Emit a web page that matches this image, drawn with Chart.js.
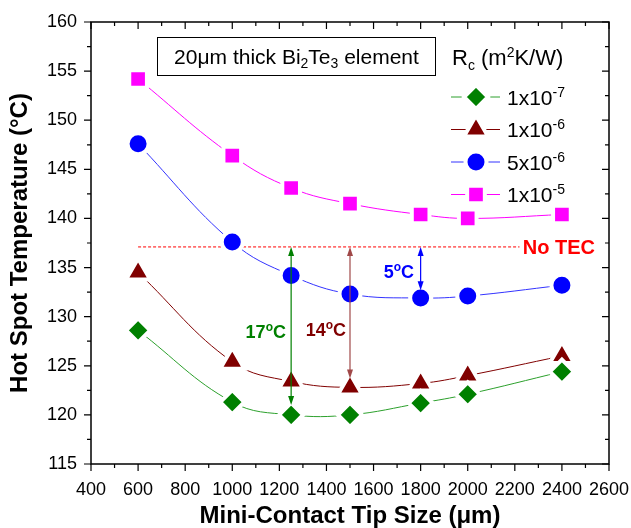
<!DOCTYPE html>
<html lang="en">
<head>
<meta charset="UTF-8">
<title>Hot Spot Temperature vs Mini-Contact Tip Size</title>
<script src="https://cdn.jsdelivr.net/npm/chart.js"></script>
<style>
  body { margin: 0; background: #fff; }
  #chart { display: block; }
</style>
</head>
<body>
<canvas id="chart" width="631" height="528"></canvas>
<script>
// data
const tipSize = [600, 1000, 1250, 1500, 1800, 2000, 2400];
const rc1e7 = [128.6, 121.3, 120.0, 120.0, 121.2, 122.1, 124.4];
const rc1e6 = [134.5, 125.4, 123.4, 122.8, 123.2, 124.0, 126.0];
const rc5e6 = [147.6, 137.6, 134.2, 132.3, 131.9, 132.1, 133.2];
const rc1e5 = [154.2, 146.4, 143.1, 141.5, 140.4, 140.0, 140.4];

const seriesMant = ['1x10', '1x10', '5x10', '1x10'];
const seriesExp = ['-7', '-6', '-6', '-5'];

const noTec = 137.1;
const noTecRange = [600, 2220];

// temperature drop arrows: x, from, to
const dropX = [1250, 1500, 1800];
const dropTo = [121.0, 123.7, 132.7];
const dropText = ['17', '14', '5'];

const FONT = '"Liberation Sans", Arial, Helvetica, sans-serif';

function series(label, values, lineColor, pointColor, shape, radius) {
  return {
    label,
    data: tipSize.map((x, i) => ({ x, y: values[i] })),
    borderColor: lineColor,
    backgroundColor: pointColor,
    pointBackgroundColor: pointColor,
    pointBorderColor: '#fff',
    pointBorderWidth: 4,
    pointRadius: radius,
    pointStyle: shape,
    borderWidth: 1,
    tension: 0.4,
    fill: false
  };
}

const datasets = [
  series('1x10-7', rc1e7, '#2ca02c', '#008000', 'rectRot', 12),
  series('1x10-6', rc1e6, '#800000', '#800000', 'triangle', 14),
  series('5x10-6', rc5e6, '#3333ff', '#0000ff', 'circle', 10.5),
  series('1x10-5', rc1e5, '#ff00ff', '#ff00ff', 'rect', 12.5),
  {
    label: 'No TEC',
    data: noTecRange.map(x => ({ x, y: noTec })),
    borderColor: '#ff0000',
    borderWidth: 1,
    borderDash: [3, 2],
    pointRadius: 0,
    fill: false
  }
];

// draw text with sub/superscript parts, y = baseline
function drawRich(ctx, parts, x, y, size, weight, color, align) {
  const fontOf = p => `${weight} ${p[1] ? Math.round(size * 0.65) : size}px ${FONT}`;
  let w = 0;
  parts.forEach(p => { ctx.font = fontOf(p); w += ctx.measureText(p[0]).width; });
  let cx = align === 'right' ? x - w : align === 'center' ? x - w / 2 : x;
  ctx.fillStyle = color;
  ctx.textAlign = 'left';
  ctx.textBaseline = 'alphabetic';
  parts.forEach(p => {
    ctx.font = fontOf(p);
    const dy = p[1] === 'sup' ? -size * 0.38 : p[1] === 'sub' ? size * 0.22 : 0;
    ctx.fillText(p[0], cx, y + dy);
    cx += ctx.measureText(p[0]).width;
  });
}

function arrowHead(ctx, x, y, dir, color) {
  ctx.fillStyle = color;
  ctx.beginPath();
  ctx.moveTo(x, y);
  ctx.lineTo(x - 3, y + dir * 9);
  ctx.lineTo(x + 3, y + dir * 9);
  ctx.closePath();
  ctx.fill();
}

const extras = {
  id: 'extras',
  afterDatasetsDraw(chart) {
    const ctx = chart.ctx;
    const xs = chart.scales.x, ys = chart.scales.y;
    const dropColors = ['#008000', '#a04848', '#0000ff'];
    const textColors = ['#008000', '#800000', '#0000ff'];
    ctx.save();
    dropX.forEach((v, i) => {
      const px = xs.getPixelForValue(v);
      const y1 = ys.getPixelForValue(noTec), y2 = ys.getPixelForValue(dropTo[i]);
      ctx.strokeStyle = dropColors[i];
      ctx.lineWidth = 1.2;
      ctx.beginPath();
      ctx.moveTo(px, y1 + 4);
      ctx.lineTo(px, y2 - 4);
      ctx.stroke();
      arrowHead(ctx, px, y1, 1, dropColors[i]);
      arrowHead(ctx, px, y2, -1, dropColors[i]);
    });
    // drop labels
    const lbl = [[1228, 128.5], [1483, 128.7], [1772, 134.6]];
    lbl.forEach((p, i) => {
      drawRich(ctx, [[dropText[i], ''], ['o', 'sup'], ['C', '']],
        xs.getPixelForValue(p[0]), ys.getPixelForValue(p[1]) + 6.5, 18, 'bold', textColors[i], 'right');
    });
    drawRich(ctx, [['No TEC', '']], xs.getPixelForValue(2234), ys.getPixelForValue(noTec) + 7, 20, 'bold', '#ff0000', 'left');

    // text box
    ctx.strokeStyle = '#000';
    ctx.lineWidth = 1;
    ctx.strokeRect(157.5, 37.5, 278, 38);
    drawRich(ctx, [['20\u03bcm thick Bi', ''], ['2', 'sub'], ['Te', ''], ['3', 'sub'], [' element', '']],
      296.5, 63.5, 21, 'normal', '#000', 'center');

    // legend
    drawRich(ctx, [['R', ''], ['c', 'sub'], [' (m', ''], ['2', 'sup'], ['K/W)', '']], 452, 65, 22, 'normal', '#000', 'left');
    chart.data.datasets.slice(0, 4).forEach((ds, i) => {
      const y = 97 + 32.5 * i;
      ctx.strokeStyle = ds.borderColor;
      ctx.lineWidth = 1;
      ctx.beginPath();
      ctx.moveTo(451, y);
      ctx.lineTo(500, y);
      ctx.stroke();
      ctx.fillStyle = ds.pointBackgroundColor;
      ctx.strokeStyle = '#fff';
      ctx.lineWidth = 4;
      Chart.helpers.drawPoint(ctx, { pointStyle: ds.pointStyle, radius: ds.pointRadius, rotation: 0, borderWidth: 4 }, 476, y);
      drawRich(ctx, [[seriesMant[i], ''], [seriesExp[i], 'sup']], 507, y + 7.5, 21, 'normal', '#000', 'left');
    });
    ctx.restore();
  },
  afterDraw(chart) {
    const ctx = chart.ctx;
    const a = chart.chartArea;
    const xs = chart.scales.x, ys = chart.scales.y;
    ctx.save();
    ctx.strokeStyle = '#000';
    ctx.lineWidth = 1.5;
    ctx.strokeRect(a.left, a.top, a.right - a.left, a.bottom - a.top);
    ctx.lineWidth = 1.2;
    ctx.beginPath();
    for (let v = 400; v <= 2600; v += 100) {
      const px = xs.getPixelForValue(v);
      const len = v % 200 === 0 ? 7 : 4;
      ctx.moveTo(px, a.bottom); ctx.lineTo(px, a.bottom + len);
      ctx.moveTo(px, a.top); ctx.lineTo(px, a.top + len);
    }
    for (let v = 115; v <= 160; v += 2.5) {
      const py = ys.getPixelForValue(v);
      const len = v % 5 === 0 ? 7 : 4;
      ctx.moveTo(a.left - len, py); ctx.lineTo(a.left, py);
      ctx.moveTo(a.right - len, py); ctx.lineTo(a.right, py);
    }
    ctx.stroke();
    ctx.restore();
  }
};

new Chart(document.getElementById('chart'), {
  type: 'line',
  data: { datasets },
  options: {
    responsive: false,
    animation: false,
    events: [],
    layout: { padding: { top: 22, right: 22, left: 0, bottom: 0 } },
    plugins: { legend: { display: false }, tooltip: { enabled: false } },
    scales: {
      x: {
        type: 'linear', min: 400, max: 2600,
        grid: { display: false, drawTicks: false }, border: { display: false },
        ticks: { stepSize: 200, autoSkip: false, maxRotation: 0, padding: 15, color: '#000',
          font: { size: 18, family: FONT }, callback: v => String(v) },
        title: { display: true, text: 'Mini-Contact Tip Size (\u03bcm)', color: '#000', padding: { top: 0, bottom: 0 },
          font: { size: 24, weight: 'bold', family: FONT, lineHeight: 1 } },
        afterFit: s => { s.height = 64; s.paddingLeft = 0; s.paddingRight = 0; }
      },
      y: {
        min: 115, max: 160,
        grid: { display: false, drawTicks: false }, border: { display: false },
        ticks: { stepSize: 5, autoSkip: false, padding: 14, color: '#000', font: { size: 18, family: FONT } },
        title: { display: true, text: 'Hot Spot Temperature (\u00b0C)', color: '#000', padding: { top: 8, bottom: 0 },
          font: { size: 24, weight: 'bold', family: FONT, lineHeight: 1 } },
        afterFit: s => { s.width = 91; s.paddingTop = 0; s.paddingBottom = 0; }
      }
    }
  },
  plugins: [extras]
});
</script>
</body>
</html>
